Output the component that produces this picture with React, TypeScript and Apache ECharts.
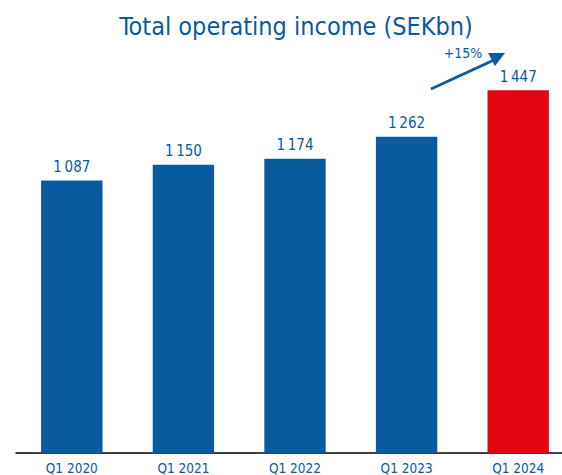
import React, { useEffect, useRef } from "react";
import * as echarts from "echarts";

const categories = ["Q1 2020", "Q1 2021", "Q1 2022", "Q1 2023", "Q1 2024"];
const values = [1087, 1150, 1174, 1262, 1447];
const highlightIndex = 4;
const growthLabel = "+15%";
const titleText = "Total operating income (SEKbn)";

const BLUE = "#0a5aa0";
const RED = "#e30613";
const FONT = "'Liberation Sans Narrow', 'DejaVu Sans Condensed', 'Roboto', sans-serif";

function fmt(v: number): string {
  const s = String(v);
  return s.length > 3 ? s.slice(0, s.length - 3) + "\u2009" + s.slice(s.length - 3) : s;
}

export default function App() {
  const ref = useRef<HTMLDivElement>(null);
  useEffect(() => {
    if (!ref.current) return;
    const chart = echarts.init(ref.current, undefined, { renderer: "svg" });
    chart.setOption({
      animation: false,
      backgroundColor: "#ffffff",
      title: {
        text: titleText,
        left: 291,
        textAlign: "center",
        top: 9,
        textStyle: { color: BLUE, fontFamily: FONT, fontSize: 25, fontWeight: "normal" },
      },
      grid: { left: 16, right: 0, top: 52, bottom: 21, containLabel: false },
      xAxis: {
        type: "category",
        data: categories,
        axisLine: { show: true, lineStyle: { color: "#000000", width: 1.5 } },
        axisTick: { show: false },
        axisLabel: { color: BLUE, fontFamily: FONT, fontSize: 13.5, margin: 8 },
      },
      yAxis: {
        type: "value",
        min: 0,
        max: 1600,
        show: false,
        splitLine: { show: false },
      },
      series: [
        {
          type: "bar",
          barWidth: "55%",
          data: values.map((v, i) => ({
            value: v,
            itemStyle: { color: i === highlightIndex ? RED : BLUE },
          })),
          label: {
            show: true,
            position: "top",
            distance: 6,
            color: BLUE,
            fontFamily: FONT,
            fontSize: 15,
            formatter: (p: any) => fmt(p.value),
          },
        },
      ],
      graphic: [
        {
          type: "line",
          shape: { x1: 431, y1: 89, x2: 494, y2: 60 },
          style: { stroke: BLUE, lineWidth: 3 },
        },
        {
          type: "polygon",
          shape: { points: [[488, 53], [505, 53], [495, 66]] },
          style: { fill: BLUE },
        },
        {
          type: "text",
          x: 463,
          y: 53,
          style: {
            text: growthLabel,
            fill: BLUE,
            fontFamily: FONT,
            fontSize: 14,
            align: "center",
            verticalAlign: "middle",
          },
        },
      ],
    });
    return () => chart.dispose();
  }, []);
  return (
    <div style={{ position: "fixed", left: 0, top: 0, width: 562, height: 475, overflow: "hidden" }}>
      <div ref={ref} style={{ width: 574, height: 475 }} />
    </div>
  );
}
